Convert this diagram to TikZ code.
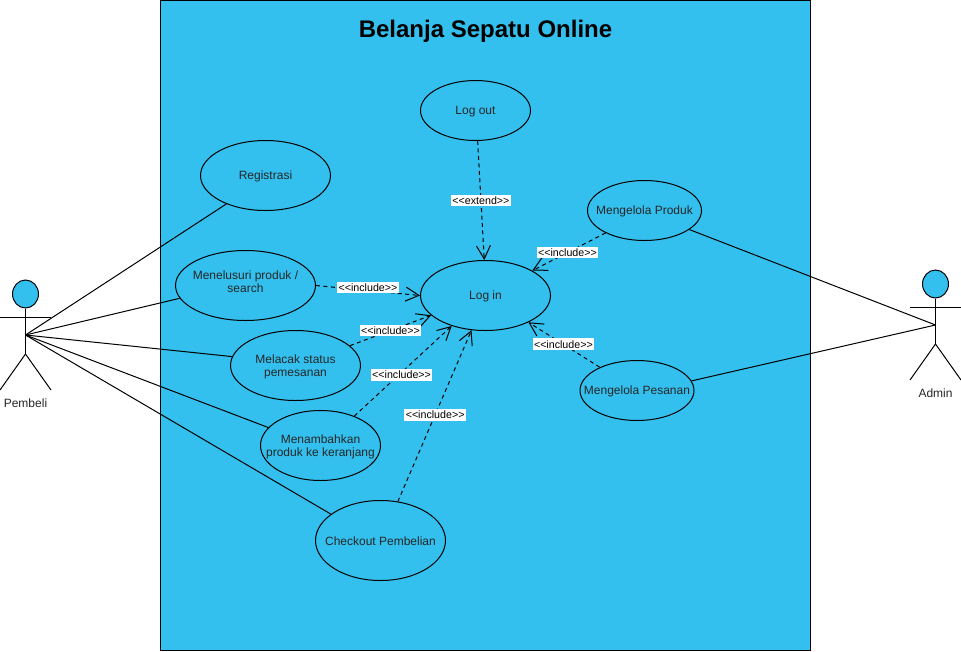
\documentclass[tikz,border=0pt]{standalone}
\usepackage{fontspec}
\setmainfont{Liberation Sans}
\usetikzlibrary{arrows.meta,shapes.geometric}
\definecolor{sky}{HTML}{33C0EE}
\tikzset{
  ucx/.style n args={4}{ellipse,draw=black,line width=0.75pt,fill=sky,minimum width=#2*0.75pt*2,minimum height=#3*0.75pt*2,inner sep=0pt,
    label={[align=center,yshift=#1,inner sep=0pt,font=\fontsize{9}{10.2}\selectfont,text=black!85]center:{#4}}},
  uc/.style n args={3}{ucx={-1pt}{#1}{#2}{#3}},
  actorhead/.style={ellipse,draw=black,line width=0.75pt,fill=sky,minimum width=19.5pt,minimum height=21pt,inner sep=0pt},
  actorname/.style={font=\fontsize{9}{11}\selectfont,text=black!85},
  assoc/.style={line width=0.75pt,draw=black},
  dep/.style={line width=0.75pt,dashed,dash pattern=on 3pt off 2.6pt,draw=black,-{Straight Barb[length=10pt,width=10.5pt,line width=0.75pt]}},
  lab/.style={fill=white,inner xsep=1pt,inner ysep=1.5pt,font=\fontsize{8}{9}\selectfont,text=black},
}
\newcommand{\incl}{<{}<include>{}>}
\newcommand{\extd}{<{}<extend>{}>}
\begin{document}
\begin{tikzpicture}[x=0.75pt,y=-0.75pt]
\useasboundingbox[fill=white] (0,0) rectangle (961,651);
\node[draw=black,line width=0.75pt,fill=sky,minimum width=487.5pt,minimum height=487.5pt,inner sep=0pt,outer sep=0pt] (system) at (485.5,325.5) {};
\node[font=\bfseries\fontsize{18}{22}\selectfont] (title) at (485.5,31) {Belanja Sepatu Online};

% use cases
\node[uc={55}{30}{Log out}] (logout) at (475.5,110.5) {};
\node[uc={65}{35}{Registrasi}] (reg) at (265.5,175.5) {};
\node[ucx={2.7pt}{70}{35}{Menelusuri produk /\\search}] (search) at (245.5,285.5) {};
\node[uc={65}{35}{Melacak status\\pemesanan}] (track) at (295.5,365.5) {};
\node[uc={60}{35}{Menambahkan\\produk ke keranjang}] (cart) at (320.5,445.5) {};
\node[ucx={-0.3pt}{65}{40}{Checkout Pembelian}] (checkout) at (380.5,540.5) {};
\node[uc={65}{35}{Log in}] (login) at (485.5,295.5) {};
\node[ucx={-0.3pt}{57}{30}{Mengelola Produk}] (produk) at (644.5,210.5) {};
\node[uc={57}{30}{Mengelola Pesanan}] (pesanan) at (637,390.5) {};

% actors
\node[actorhead] (hp) at (25.5,294) {};
\coordinate (pembeli) at (25.5,335);
\coordinate (ps) at (25.5,354);
\coordinate (pa1) at (0,317);
\coordinate (pa2) at (51,317);
\coordinate (pl1) at (0,390);
\coordinate (pl2) at (51,390);
\draw[assoc] (hp.south) -- (ps);
\draw[assoc] (pa1) -- (pa2);
\draw[assoc] (pl1) -- (ps) -- (pl2);
\node[actorname] (pname) at (25.5,403.5) {Pembeli};

\node[actorhead] (ha) at (935.5,284) {};
\coordinate (admin) at (935.5,325);
\coordinate (as) at (935.5,344);
\coordinate (aa1) at (910,307);
\coordinate (aa2) at (961,307);
\coordinate (al1) at (910,380);
\coordinate (al2) at (961,380);
\draw[assoc] (ha.south) -- (as);
\draw[assoc] (aa1) -- (aa2);
\draw[assoc] (al1) -- (as) -- (al2);
\node[actorname] (aname) at (935.5,393.5) {Admin};

% associations
\draw[assoc] (pembeli) -- (reg.216.6);
\draw[assoc] (pembeli) -- (search.191);
\draw[assoc] (pembeli) -- (track.172);
\draw[assoc] (pembeli) -- (cart.161);
\draw[assoc] (pembeli) -- (checkout.152);
\draw[assoc] (admin) -- (produk.-23);
\draw[assoc] (admin) -- (pesanan.10.7);

% dependencies
\draw[dep] (logout.-86) -- node[lab,pos=0.5] (l1) {\extd} (login.92);
\draw[dep] (search.0) -- node[lab,pos=0.5,yshift=2.25pt] (l2) {\incl} (login.180);
\draw[dep] (track.20) -- node[lab,pos=0.5] (l3) {\incl} (login.200.3);
\draw[dep] (cart.41.4) -- node[lab,pos=0.485,yshift=-1.8pt] (l4) {\incl} (login.222.4);
\draw[dep] (checkout.66.4) -- node[lab,pos=0.506] (l5) {\incl} (login.248.7);
\draw[dep] (produk.210) -- node[lab,pos=0.52] (l6) {\incl} (login.28);
\draw[dep] (pesanan.148) -- node[lab,pos=0.51] (l7) {\incl} (login.-32.1);
\end{tikzpicture}
\end{document}
